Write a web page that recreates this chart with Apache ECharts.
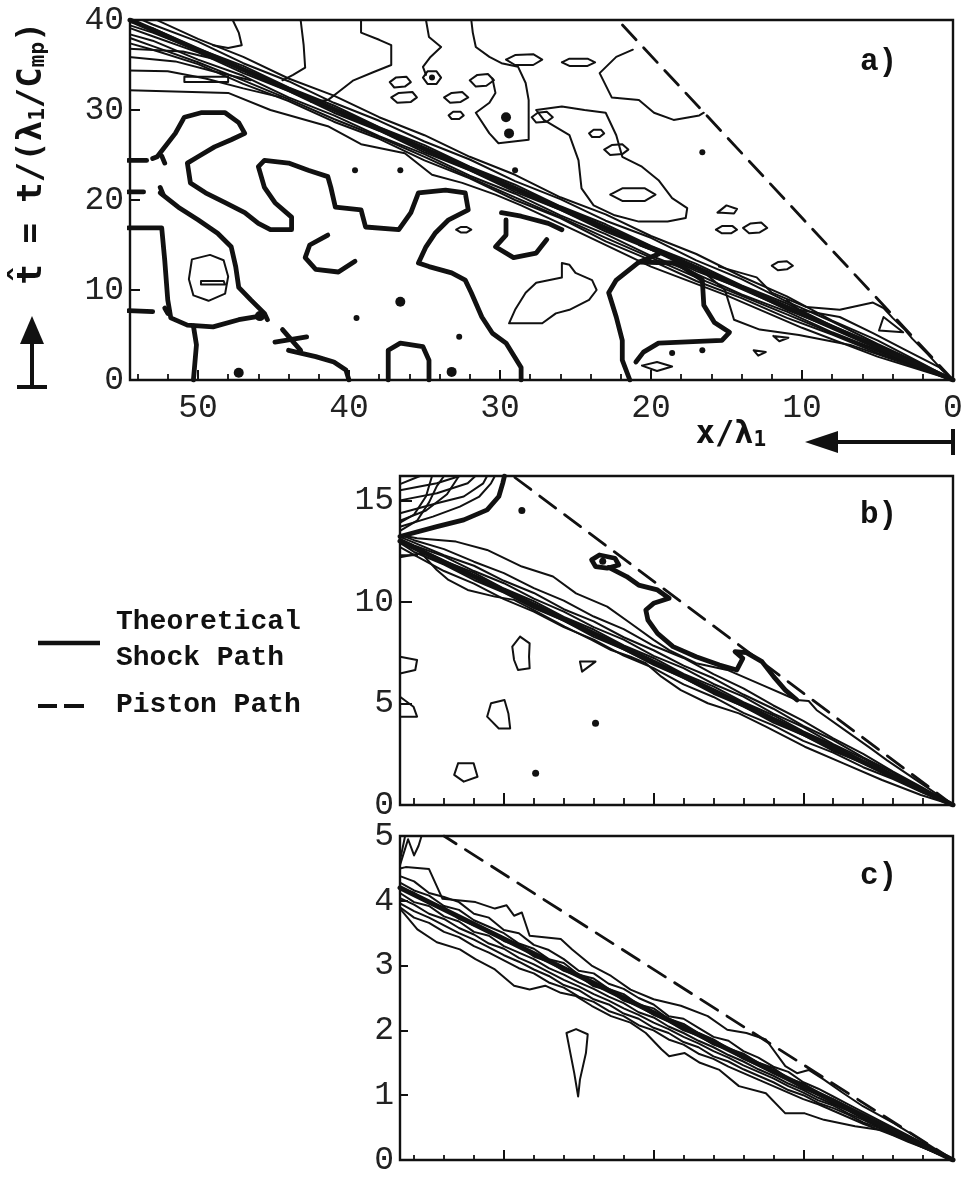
<!DOCTYPE html>
<html>
<head>
<meta charset="utf-8">
<script src="https://cdn.jsdelivr.net/npm/echarts@6/dist/echarts.min.js"></script>
<style>
html,body{margin:0;padding:0;background:#fff;}
#chart{width:966px;height:1178px;}
</style>
</head>
<body>
<div id="chart"></div>
<script>
// ===================== Panel a : x/λ1 0..54.5, t 0..40 =====================
const xMaxA = 54.5;
const tMaxA = 40;
const shockA = [[0, 0], [54.5, 40]];
const pistonA = [[0, 0], [22.2, 40]];

// thin contours bunched along the shock, sampled at these x stations
const xStationsA = [0, 2, 5, 8, 11, 14, 17, 20, 23, 26, 29, 32, 35, 38, 41, 44, 47, 50, 53, 54.5];
const bandA1 = [0, 1.8, 4.4, 6.6, 9.3, 11.5, 14.0, 16.0, 18.4, 20.3, 22.8, 24.8, 27.2, 29.2, 31.6, 33.5, 35.9, 37.9, 40.2, 41.2];
const bandA2 = [0, 1.7, 4.0, 6.5, 8.7, 11.2, 13.3, 15.8, 17.7, 20.1, 22.1, 24.5, 26.5, 28.8, 30.8, 33.2, 35.2, 37.6, 39.5, 40.6];
const bandA3 = [0, 1.5, 3.9, 6.0, 8.5, 10.5, 12.9, 14.9, 17.3, 19.3, 21.7, 23.7, 26.1, 28.1, 30.5, 32.5, 34.9, 36.8, 39.1, 39.8];
const bandA4 = [0, 1.52, 3.75, 5.95, 8.2, 10.35, 12.5, 14.7, 17.0, 19.1, 21.3, 23.5, 25.7, 27.9, 30.1, 32.3, 34.5, 36.6, 38.6, 39.4];
const bandA5 = [0, 1.45, 3.5, 5.8, 7.8, 10.2, 12.1, 14.5, 16.5, 18.9, 20.9, 23.3, 25.3, 27.7, 29.7, 32.1, 34.1, 36.4, 38.2, 39.1];
const bandA6 = [0, 1.3, 3.35, 5.3, 7.6, 9.5, 11.8, 13.8, 16.2, 18.3, 20.7, 22.7, 25.1, 27.1, 29.4, 31.4, 33.8, 35.6, 37.7, 38.4];
const bandA7 = [0, 1.25, 3.2, 5.2, 7.3, 9.35, 11.4, 13.6, 15.8, 18.1, 20.3, 22.5, 24.8, 27.0, 29.0, 31.2, 33.3, 35.3, 37.1, 38.0];
const bandA8 = [0, 1.2, 3.0, 5.05, 6.9, 9.1, 11.0, 13.3, 15.4, 18.0, 20.0, 22.4, 24.4, 26.8, 28.7, 31.0, 32.9, 35.1, 36.7, 37.4];

const lowerEdgeA = [[0,0],[5,2.6],[10,5.8],[15,9.4],[20,12.6],[25,16.6],[28.6,19.4],[30.3,20.6],[32.5,21.9],[34.5,22.8],[36.3,25.2],[39.2,26.2],[41.4,28.2],[45.2,30.0],[48.0,31.9],[54.6,32.2]];
const fanA1 = [[54.6,36.8],[51.0,36.5],[48.5,35.5],[46.0,33.9]];
const fanA2 = [[54.6,35.9],[51.5,35.4],[49.0,34.3],[46.5,33.3]];
const fanA3 = [[54.6,34.4],[52.0,34.3],[49.5,33.5],[47.0,32.4],[44.5,31.4]];
const thinA1 = [[47.7,40],[47.3,38.6],[47.1,37.2],[48.0,36.9],[49.0,37.2]];
const thinA2 = [[43.2,40],[43.0,37.2],[42.9,34.7],[43.7,33.9],[44.4,33.3]];
const thinA3 = [[39.2,40],[39.2,38.6],[38.0,37.8],[37.2,37.2],[37.2,35.0],[38.4,34.2],[39.7,33.3],[40.7,32.0],[41.4,31.1],[42.5,30.9]];
const thinA4 = [[34.9,40],[34.7,38.1],[33.9,37.0],[34.6,35.9],[35.1,34.8],[34.9,33.9]];
const thinA5 = [[31.9,40],[31.8,38.6],[31.6,37.0],[30.7,35.9],[29.9,35.2],[28.8,34.8],[28.3,33.0],[28.1,31.1],[28.1,26.7],[30.1,26.3],[30.7,27.4],[31.6,29.7],[30.7,30.8],[30.3,31.9],[30.5,33.5]];
const thinA6 = [[21.2,36.7],[22.3,35.9],[23.4,34.1],[22.6,31.4],[20.8,31.1],[19.8,29.7],[18.5,28.9],[16.8,29.4],[16.5,29.7]];
const thinA7 = [[27.6,30.0],[25.9,30.4],[24.4,30.0],[23.0,29.7],[22.3,27.2],[21.9,24.8],[20.6,23.7],[19.5,22.2],[18.6,20.2],[17.6,19.1],[17.7,18.0],[18.9,17.6],[20.8,17.6],[22.4,18.3],[23.8,19.4],[24.6,21.3],[24.8,24.4],[25.4,27.2],[27.1,28.9],[27.6,30.0]];
const thinA8 = [[15.5,12.6],[13.0,11.4],[12.0,9.7],[9.7,8.1],[7.5,7.8],[5.3,8.6],[4.6,8.0],[4.0,6.9],[3.2,5.6],[2.7,4.6],[1.7,2.9],[0.7,1.1],[0,0]];
const thinA9 = [[20.8,15.0],[16.8,12.4],[15.1,10.0],[14.5,6.7],[12.8,5.6],[10.2,5.0],[6.8,3.9],[3.5,2.0],[0,0]];
const thinA10 = [[11.0,8.9],[10.2,7.8],[7.5,7.0],[5.3,5.2],[3.1,3.3],[0.9,1.4],[0,0]];

// small closed thin contours
const loopsA = [
  [[37.3,33.1],[36.9,33.6],[36.2,33.7],[35.9,33.1],[36.3,32.6],[37.0,32.5]],
  [[37.2,31.4],[36.7,31.9],[35.8,32.0],[35.5,31.4],[35.9,30.9],[36.8,30.8]],
  [[35.1,33.6],[34.8,34.3],[34.2,34.3],[33.9,33.6],[34.2,32.9],[34.8,32.9]],
  [[33.7,31.4],[33.2,31.9],[32.5,32.0],[32.1,31.4],[32.6,30.9],[33.3,30.8]],
  [[33.4,29.4],[33.1,29.8],[32.6,29.8],[32.4,29.4],[32.7,29.0],[33.2,29.0]],
  [[32.0,33.3],[31.5,33.9],[30.8,34.0],[30.4,33.3],[30.9,32.7],[31.6,32.6]],
  [[29.6,35.6],[29.0,36.1],[27.8,36.2],[27.2,35.6],[27.8,35.0],[29.0,35.0]],
  [[25.9,35.3],[25.4,35.7],[24.2,35.7],[23.7,35.3],[24.2,34.9],[25.4,34.9]],
  [[27.9,29.2],[27.5,29.7],[26.9,29.8],[26.5,29.2],[26.9,28.7],[27.6,28.6]],
  [[24.1,27.4],[23.8,27.8],[23.3,27.8],[23.1,27.4],[23.4,27.0],[23.9,27.0]],
  [[23.1,25.6],[22.6,26.1],[21.9,26.2],[21.5,25.6],[21.9,25.1],[22.7,25.0]],
  [[22.7,20.6],[21.9,21.3],[20.4,21.3],[19.7,20.6],[20.4,19.9],[21.9,19.9]],
  [[15.6,18.6],[15.0,19.4],[14.3,19.0],[14.5,18.5]],
  [[15.7,16.7],[15.3,17.1],[14.6,17.1],[14.3,16.7],[14.7,16.3],[15.3,16.3]],
  [[13.9,16.9],[13.4,17.4],[12.7,17.5],[12.3,16.9],[12.8,16.4],[13.5,16.3]],
  [[12.0,12.7],[11.6,13.1],[11.0,13.2],[10.6,12.7],[11.0,12.3],[11.6,12.2]],
  [[32.9,16.7],[32.6,17.0],[32.2,17.0],[31.9,16.7],[32.2,16.4],[32.6,16.4]],
  [[50.4,13.4],[49.2,13.9],[48.3,13.3],[48.0,11.5],[48.2,9.6],[49.3,8.8],[50.3,9.4],[50.6,11.2]],
  [[49.8,11.0],[48.3,11.0],[48.2,10.6],[49.8,10.6]],
  [[50.9,33.7],[48.0,33.7],[48.0,33.1],[50.9,33.1]],
  [[25.9,13.0],[25.9,11.4],[27.6,10.8],[28.3,9.7],[29.0,7.8],[29.4,6.3],[27.2,6.3],[26.3,7.4],[25.4,7.8],[24.1,8.9],[23.6,10.0],[23.9,11.1],[25.0,11.9],[25.4,12.8]],
  [[4.6,7.0],[3.3,5.3],[4.9,5.5]],
  [[11.9,4.9],[10.9,4.7],[11.5,4.3]],
  [[13.2,3.3],[12.4,3.1],[12.9,2.7]],
  [[20.6,1.6],[19.6,2.0],[18.6,1.5],[19.6,1.0]]
];

// heavy contours
const thickA1 = [[54.6,16.9],[52.4,16.9],[52.2,13.3],[52.0,8.9],[51.8,6.9],[50.7,6.1],[49.0,5.9],[47.3,6.7],[45.9,7.1]];
const thickA2 = [[50.3,6.0],[50.1,3.9],[50.3,0]];
const thickA3 = [[53.0,24.6],[52.7,24.8],[51.5,27.4],[50.9,29.2],[49.8,29.7],[48.2,29.7],[47.3,28.6],[46.9,27.4],[47.8,26.7],[48.9,25.9],[50.0,24.8],[50.7,24.1],[50.5,21.9],[49.5,20.8],[48.2,19.7],[46.9,18.6],[46.0,17.4],[45.2,16.7],[43.8,16.7],[43.8,18.1],[44.9,19.7],[45.6,21.4],[46.0,23.7],[45.6,24.4],[44.0,24.1],[42.7,23.3],[41.4,22.6],[41.2,21.4],[40.9,19.2],[39.2,18.9],[38.9,17.0],[36.7,16.7],[35.9,18.6],[35.4,20.8],[33.6,21.1],[32.3,20.8],[32.1,18.9],[33.4,17.8],[34.3,16.3],[34.9,14.8],[35.4,13.0],[34.7,12.6],[33.2,11.9],[32.3,11.1],[31.9,9.7],[31.2,7.0],[30.5,5.2],[29.6,4.1],[28.6,1.4],[28.6,0]];
const thickA4 = [[52.5,20.8],[51.3,19.2],[50.0,17.8],[48.7,16.3],[47.8,14.8],[47.5,12.6],[47.3,10.3],[46.5,8.9],[45.6,7.4],[45.4,6.7]];
const thickA5 = [[41.4,16.1],[42.6,15.0],[42.9,13.6],[42.2,12.3],[40.7,12.0],[39.6,13.2]];
const thickA6 = [[44.0,3.3],[42.2,2.6],[41.0,2.0],[40.2,1.1],[40.0,0]];
const thickA7 = [[37.4,0],[37.4,3.3],[36.6,4.1],[35.1,3.7],[34.7,2.2],[34.7,0]];
const thickA8 = [[29.9,18.6],[28.6,18.2],[26.8,17.4],[25.9,16.7]];
const thickA9 = [[29.6,17.8],[29.6,16.1],[30.3,14.8],[29.1,13.6],[27.6,14.1],[26.9,15.6]];
const thickA10 = [[19.5,14.0],[20.8,13.1],[22.3,11.1],[22.8,9.7],[22.3,7.0],[21.9,4.4],[21.9,2.2],[21.4,0]];
const thickA11 = [[20.8,13.1],[18.3,13.0],[16.6,11.1],[16.5,8.3],[15.8,6.4],[14.8,5.3],[15.3,4.4],[19.5,4.1],[20.5,3.1],[21.0,2.0]];
const thickBitsA = [
  [[54.6,24.4],[53.4,24.4]], [[54.6,20.9],[53.6,20.9]], [[54.6,7.7],[53.0,7.6]],
  [[52.4,24.9],[52.2,24.1]], [[52.5,21.4],[52.3,20.6]], [[52.2,8.0],[52.0,7.4]],
  [[44.4,5.6],[43.2,3.3]], [[44.9,4.2],[42.8,4.8]]
];
const dotsA = [[39.6,23.3],[36.6,23.3],[39.5,6.9],[32.7,4.8],[29.0,23.3],[16.6,25.3],[18.6,3.0],[16.6,3.3],[34.5,33.6]];
const blobsA = [[36.6,8.7],[33.2,0.9],[29.6,29.2],[29.4,27.4],[47.3,0.8],[45.9,7.1]];

// ===================== Panel b : t 0..16.2 =====================
const xMaxBC = 18.47;
const tMaxB = 16.2;
const shockB = [[0, 0], [18.47, 13.0]];
const pistonB = [[0, 0], [14.7, 16.2]];
const xStationsB = [0, 1, 2, 3, 4, 5, 6, 7, 8, 9, 10, 11, 12, 13, 14, 15, 16, 17, 18, 18.47];
const bandB1 = [0, 0.84, 1.64, 2.52, 3.28, 4.14, 4.90, 5.74, 6.44, 7.24, 7.84, 8.66, 9.28, 10.06, 10.68, 11.42, 11.98, 12.6, 13.04, 13.3];
const bandB2 = [0, 0.76, 1.6, 2.34, 3.2, 3.9, 4.74, 5.44, 6.24, 6.86, 7.62, 8.26, 9.04, 9.64, 10.44, 11.04, 11.78, 12.3, 12.92, 13.2];
const bandB3 = [0, 0.78, 1.5, 2.3, 3.0, 3.84, 4.5, 5.34, 5.96, 6.74, 7.34, 8.14, 8.76, 9.52, 10.16, 10.92, 11.52, 12.24, 12.78, 13.1];
const bandB4 = [0, 0.7, 1.48, 2.16, 2.96, 3.62, 4.42, 5.06, 5.84, 6.46, 7.24, 7.86, 8.64, 9.26, 10.04, 10.66, 11.44, 12.02, 12.74, 13.0];
const bandB5 = [0, 0.68, 1.32, 2.06, 2.66, 3.44, 4.06, 4.86, 5.48, 6.26, 6.9, 7.66, 8.28, 9.08, 9.7, 10.46, 11.08, 11.84, 12.46, 12.9];
const bandB6 = [0, 0.6, 1.28, 1.86, 2.58, 3.16, 3.92, 4.54, 5.32, 5.94, 6.74, 7.36, 8.14, 8.76, 9.52, 10.14, 10.9, 11.52, 12.32, 12.7];
const lowerEdgeB = [[18.47,12.2],[17.76,12.4],[17.24,11.57],[16.85,11.08],[16.21,10.59],[15.3,10.26],[14.66,10.1],[14.0,9.6],[12.97,8.78],[12.07,8.13],[11.42,7.63],[10.77,7.3],[10.26,6.98],[9.74,6.32],[9.09,5.66],[8.19,5.01],[7.15,4.51],[6.25,3.86],[4.95,2.87],[3.66,2.05],[2.37,1.23],[1.07,0.49],[0,0]];
const outerB = [[18.47,13.3],[17.9,13.13],[16.6,12.97],[15.56,12.56],[14.4,11.74],[13.36,11.25],[12.59,10.42],[11.55,9.77],[10.77,8.95],[10.0,8.13],[9.48,7.63],[8.58,6.98],[7.54,6.65],[6.25,5.83],[5.47,5.33],[5.21,5.17],[4.82,5.12],[4.56,4.68],[3.53,3.6],[2.76,2.8],[2.2,2.2],[1.2,1.2],[0,0]];
const fanB = [
  [[18.47,15.5],[17.24,15.84],[16.47,16.2]],
  [[18.47,15.0],[17.24,15.35],[16.21,15.84],[15.95,16.2]],
  [[18.47,14.37],[17.24,14.86],[16.34,15.19],[15.69,15.84],[15.56,16.2]],
  [[18.47,13.7],[17.37,14.2],[16.47,14.69],[15.82,15.19],[15.43,15.84],[15.3,16.2]],
  [[18.47,13.5],[17.9,14.0],[17.5,14.9],[17.24,15.7],[17.0,16.2]],
  [[18.47,14.0],[17.6,14.5],[16.9,15.3],[16.5,16.2]],
  [[18.47,13.9],[18.0,14.3],[17.6,15.2],[17.4,16.2]],
  [[18.47,15.8],[17.8,16.2]],
  [[18.47,12.3],[17.9,12.3]]
];
const thickB1 = [[18.47,13.22],[17.24,13.71],[16.34,14.04],[15.56,14.53],[15.17,15.19],[15.04,15.84],[14.98,16.2]];
const thickB2 = [[11.5,11.7],[10.9,11.25],[10.5,10.83],[9.87,10.59],[9.48,10.18],[10.0,9.93],[10.26,9.6],[10.19,9.11],[9.87,8.45],[9.35,7.8],[8.58,7.3],[7.8,6.89],[7.22,6.65],[7.02,7.22],[7.28,7.55],[6.9,7.5],[6.38,7.06],[5.99,6.32],[5.6,5.66],[5.21,5.17]];
const thickB3 = [[12.07,12.07],[11.81,12.31],[11.29,12.15],[11.16,11.82],[11.55,11.66],[11.94,11.74]];
const loopsB = [
  [[14.46,8.29],[14.14,7.96],[14.16,7.3],[14.14,6.73],[14.53,6.65],[14.66,7.14],[14.72,7.8]],
  [[15.43,5.01],[14.98,5.17],[14.85,4.51],[14.79,3.77],[15.17,3.77],[15.56,4.35]],
  [[16.53,2.05],[16.01,2.05],[15.88,1.39],[16.34,1.15],[16.66,1.48]],
  [[12.46,7.06],[11.94,7.06],[12.39,6.57]]
];
const edgeBumpsB = [
  [[18.47,7.3],[17.9,7.14],[17.96,6.65],[18.47,6.48]],
  [[18.47,5.33],[18.02,4.84],[17.9,4.35],[18.47,4.35]]
];
const dotsB = [[11.94,4.02],[13.94,1.56],[14.4,14.5],[11.7,12.0]];

// ===================== Panel c : t 0..5 =====================
const tMaxC = 5;
const shockC = [[0, 0], [18.47, 4.2]];
const pistonC = [[0, 0], [17.0, 5.0]];
const xStationsC = [18.47, 18, 17.5, 17, 16.5, 16, 15.5, 15, 14.5, 14, 13.5, 13, 12.5, 12, 11.5, 11, 10.5, 10, 9.5, 9, 8.5, 8, 7.5, 7, 6.5, 6, 5.5, 5, 4.5, 4, 3.5, 3, 2.5, 2, 1.5, 1, 0.5, 0];
const bandC1 = [4.38, 4.30, 4.12, 4.06, 3.98, 3.80, 3.74, 3.55, 3.50, 3.32, 3.24, 3.10, 2.92, 2.88, 2.72, 2.64, 2.50, 2.40, 2.22, 2.18, 2.04, 1.90, 1.84, 1.68, 1.58, 1.44, 1.36, 1.20, 1.10, 0.98, 0.86, 0.74, 0.62, 0.50, 0.38, 0.26, 0.13, 0];
const bandC2 = [4.28, 4.16, 4.08, 3.92, 3.86, 3.70, 3.60, 3.50, 3.34, 3.26, 3.10, 3.04, 2.86, 2.80, 2.64, 2.56, 2.40, 2.34, 2.18, 2.10, 1.96, 1.86, 1.72, 1.64, 1.50, 1.42, 1.26, 1.18, 1.04, 0.94, 0.82, 0.70, 0.58, 0.47, 0.35, 0.24, 0.12, 0];
const bandC3 = [4.20, 4.12, 3.96, 3.90, 3.72, 3.62, 3.54, 3.38, 3.30, 3.14, 3.06, 2.92, 2.84, 2.68, 2.62, 2.46, 2.38, 2.24, 2.14, 2.00, 1.92, 1.78, 1.70, 1.56, 1.46, 1.34, 1.24, 1.10, 1.02, 0.88, 0.80, 0.66, 0.56, 0.44, 0.34, 0.22, 0.11, 0];
const bandC4 = [4.12, 3.98, 3.92, 3.76, 3.68, 3.52, 3.46, 3.30, 3.20, 3.10, 2.96, 2.86, 2.74, 2.64, 2.52, 2.42, 2.28, 2.20, 2.06, 1.96, 1.84, 1.74, 1.62, 1.52, 1.40, 1.30, 1.18, 1.08, 0.96, 0.86, 0.76, 0.64, 0.53, 0.43, 0.32, 0.21, 0.10, 0];
const bandC5 = [4.04, 3.94, 3.80, 3.72, 3.58, 3.48, 3.34, 3.26, 3.12, 3.02, 2.90, 2.78, 2.68, 2.56, 2.46, 2.34, 2.24, 2.12, 2.02, 1.90, 1.80, 1.68, 1.58, 1.46, 1.36, 1.26, 1.14, 1.04, 0.92, 0.84, 0.72, 0.62, 0.51, 0.41, 0.31, 0.20, 0.10, 0];
const bandC6 = [3.96, 3.84, 3.74, 3.62, 3.50, 3.40, 3.28, 3.16, 3.06, 2.94, 2.84, 2.70, 2.62, 2.48, 2.40, 2.26, 2.18, 2.04, 1.96, 1.82, 1.74, 1.60, 1.52, 1.40, 1.30, 1.20, 1.08, 1.00, 0.88, 0.80, 0.70, 0.58, 0.50, 0.39, 0.30, 0.19, 0.10, 0];
const bandC7 = [3.90, 3.74, 3.66, 3.52, 3.44, 3.30, 3.20, 3.08, 2.96, 2.88, 2.74, 2.66, 2.52, 2.44, 2.30, 2.22, 2.08, 2.00, 1.86, 1.78, 1.64, 1.56, 1.44, 1.34, 1.24, 1.14, 1.04, 0.94, 0.86, 0.76, 0.66, 0.56, 0.47, 0.38, 0.28, 0.19, 0.09, 0];
const upperEdgeC = [[18.47,4.5],[18.28,4.52],[17.5,4.49],[17.05,4.03],[15.95,3.98],[15.3,3.88],[14.91,3.93],[14.66,3.77],[14.4,3.82],[14.14,3.46],[13.1,3.41],[12.72,3.25],[12.07,3.0],[11.42,2.84],[10.77,2.63],[10.0,2.48],[9.09,2.38],[8.19,2.22],[7.54,2.01],[6.9,1.96],[6.25,1.86],[5.6,1.45],[5.21,1.34],[4.82,1.39],[4.31,1.24],[3.66,1.03],[3.01,0.83],[1.98,0.57],[1.07,0.31],[0,0]];
const lowerEdgeC = [[18.47,3.88],[17.89,3.56],[17.24,3.36],[16.47,3.25],[15.95,3.1],[15.3,2.94],[14.66,2.69],[14.14,2.63],[13.62,2.69],[13.1,2.58],[12.59,2.53],[12.07,2.38],[11.42,2.22],[10.77,2.12],[10.26,1.96],[9.74,1.71],[9.48,1.6],[8.96,1.65],[8.45,1.5],[7.8,1.39],[7.15,1.14],[6.25,1.03],[5.6,0.72],[4.95,0.72],[4.31,0.62],[3.27,0.52],[2.37,0.46],[1.07,0.21],[0,0]];
const dropC = [[12.91,1.96],[12.59,2.02],[12.2,1.94],[12.26,1.65],[12.46,1.24],[12.52,0.98],[12.65,1.34],[12.78,1.65]];
const cornerC1 = [[18.47,4.62],[18.3,5.0]];
const cornerC2 = [[18.47,4.55],[18.2,4.95],[18.0,4.7],[17.85,4.85],[17.75,5.0]];

// ===================== drawing =====================
const INK = '#111';
const MONO = "'Liberation Mono', 'DejaVu Sans Mono', monospace";
const series = [];

function ring(pts) { return pts.concat([pts[0]]); }
function fromStations(xs, ts) { return xs.map((x, i) => [x, ts[i]]); }
function addLine(panel, pts, width, dash) {
  series.push({
    type: 'line', xAxisIndex: panel * 2, yAxisIndex: panel, data: pts,
    symbol: 'none', silent: true, animation: false, clip: true, z: 3,
    lineStyle: { color: INK, width: width, type: dash || 'solid', cap: 'round', join: 'round' }
  });
}
function addDots(panel, pts, size) {
  series.push({
    type: 'scatter', xAxisIndex: panel * 2, yAxisIndex: panel, data: pts,
    symbolSize: size, silent: true, animation: false, z: 4,
    itemStyle: { color: INK, opacity: 1 }
  });
}

const THIN = 2.0, THICK = 4.8, SHOCK = 5, DASH = [20, 11];

// panel a
[bandA1, bandA2, bandA3, bandA4, bandA5, bandA6, bandA7, bandA8].forEach(b => addLine(0, fromStations(xStationsA, b), THIN));
[lowerEdgeA, fanA1, fanA2, fanA3, thinA1, thinA2, thinA3, thinA4, thinA5, thinA6, thinA7, thinA8, thinA9, thinA10]
  .forEach(p => addLine(0, p, THIN));
loopsA.forEach(p => addLine(0, ring(p), THIN));
[thickA1, thickA2, thickA3, thickA4, thickA5, thickA6, thickA7, thickA8, thickA9, thickA10, thickA11]
  .forEach(p => addLine(0, p, THICK));
thickBitsA.forEach(p => addLine(0, p, THICK));
addDots(0, dotsA, 6);
addDots(0, blobsA, 10);
addLine(0, shockA, SHOCK);
addLine(0, pistonA, 2.8, DASH);

// panel b
[bandB1, bandB2, bandB3, bandB4, bandB5, bandB6].forEach(b => addLine(1, fromStations(xStationsB, b), THIN));
[lowerEdgeB, outerB].forEach(p => addLine(1, p, THIN));
fanB.forEach(p => addLine(1, p, THIN));
loopsB.forEach(p => addLine(1, ring(p), THIN));
edgeBumpsB.forEach(p => addLine(1, p, THIN));
[thickB1, thickB2].forEach(p => addLine(1, p, THICK));
addLine(1, ring(thickB3), THICK);
addDots(1, dotsB, 7);
addLine(1, shockB, SHOCK);
addLine(1, pistonB, 2.8, DASH);

// panel c
[bandC1, bandC2, bandC3, bandC4, bandC5, bandC6, bandC7].forEach(b => addLine(2, fromStations(xStationsC, b), THIN));
[upperEdgeC, lowerEdgeC, cornerC1, cornerC2].forEach(p => addLine(2, p, THIN));
addLine(2, ring(dropC), THIN);
addLine(2, shockC, SHOCK);
addLine(2, pistonC, 2.8, DASH);

function xAxes(grid, max, major, minor, majLen, minLen, labels) {
  const common = { gridIndex: grid, type: 'value', min: 0, max: max, inverse: true, position: 'bottom',
    axisLine: { show: false, onZero: false }, splitLine: { show: false } };
  return [
    Object.assign({}, common, { interval: major,
      axisTick: { show: true, inside: true, length: majLen, lineStyle: { color: INK, width: 2 } },
      axisLabel: { show: labels, margin: 12, color: '#222', fontFamily: MONO, fontSize: 33,
        formatter: v => (Math.abs(v % major) < 1e-9 ? String(v) : '') } }),
    Object.assign({}, common, { interval: minor, axisLabel: { show: false },
      axisTick: { show: true, inside: true, length: minLen, lineStyle: { color: INK, width: 1.8 } } })
  ];
}
function yAxis(grid, max, major, tickLen) {
  return { gridIndex: grid, type: 'value', min: 0, max: max, interval: major, position: 'left',
    axisLine: { show: false, onZero: false }, splitLine: { show: false },
    axisTick: { show: true, inside: true, length: tickLen, lineStyle: { color: INK, width: 2 } },
    axisLabel: { margin: 6, color: '#222', fontFamily: MONO, fontSize: 33,
      formatter: v => (Math.abs(v % major) < 1e-9 ? String(v) : '') } };
}

const gridStyle = { show: true, borderColor: INK, borderWidth: 2.4, backgroundColor: 'transparent' };
const BOLD = "bold 28px 'Liberation Mono', 'DejaVu Sans Mono', monospace";
const boldText = (x, y, text, font) => ({
  type: 'text', x: x, y: y, silent: true,
  style: { text: text, fill: INK, font: font || BOLD, textAlign: 'left', textVerticalAlign: 'middle' }
});
const SUB = { font: "bold 21px 'DejaVu Sans Mono', monospace", fill: INK, verticalAlign: 'bottom', padding: [12, 0, 0, 0] };

const option = {
  animation: false,
  backgroundColor: '#fff',
  grid: [
    Object.assign({ left: 130, top: 20, width: 823, height: 360 }, gridStyle),
    Object.assign({ left: 400, top: 476, width: 553, height: 329 }, gridStyle),
    Object.assign({ left: 400, top: 836, width: 553, height: 324 }, gridStyle)
  ],
  xAxis: [].concat(
    xAxes(0, xMaxA, 10, 2, 10, 6, true),
    xAxes(1, xMaxBC, 5, 1, 12, 7, false),
    xAxes(2, xMaxBC, 5, 1, 10, 5, false)
  ),
  yAxis: [yAxis(0, tMaxA, 10, 10), yAxis(1, tMaxB, 5, 12), yAxis(2, tMaxC, 1, 8)],
  series: series,
  graphic: [
    // panel tags
    boldText(860, 62, 'a)', "bold 31px 'Liberation Mono', monospace"),
    boldText(860, 515, 'b)', "bold 31px 'Liberation Mono', monospace"),
    boldText(860, 876, 'c)', "bold 31px 'Liberation Mono', monospace"),
    // vertical axis title
    { type: 'text', x: 32, y: 153, rotation: Math.PI / 2, silent: true,
      style: { text: 't\u0302 = t/(\u03bb{s|1}/C{s|mp})', fill: INK,
        font: "bold 34px 'DejaVu Sans Mono', 'Liberation Mono', monospace",
        textAlign: 'center', textVerticalAlign: 'middle', rich: { s: SUB } } },
    // upward arrow under it
    { type: 'line', silent: true, shape: { x1: 32, y1: 387, x2: 32, y2: 340 }, style: { stroke: INK, lineWidth: 4 } },
    { type: 'line', silent: true, shape: { x1: 17, y1: 387, x2: 47, y2: 387 }, style: { stroke: INK, lineWidth: 4 } },
    { type: 'polygon', silent: true, shape: { points: [[20, 344], [44, 344], [32, 316]] }, style: { fill: INK } },
    // horizontal axis title and leftward arrow
    { type: 'text', x: 731, y: 435, silent: true,
      style: { text: 'x/\u03bb{s|1}', fill: INK, font: "bold 32px 'DejaVu Sans Mono', 'Liberation Mono', monospace",
        textAlign: 'center', textVerticalAlign: 'middle', rich: { s: SUB } } },
    { type: 'line', silent: true, shape: { x1: 953, y1: 442, x2: 832, y2: 442 }, style: { stroke: INK, lineWidth: 4 } },
    { type: 'line', silent: true, shape: { x1: 953, y1: 429, x2: 953, y2: 455 }, style: { stroke: INK, lineWidth: 4 } },
    { type: 'polygon', silent: true, shape: { points: [[805, 442], [838, 431], [838, 453]] }, style: { fill: INK } },
    // legend
    { type: 'line', silent: true, shape: { x1: 38, y1: 643, x2: 100, y2: 643 }, style: { stroke: INK, lineWidth: 4.5 } },
    boldText(116, 622, 'Theoretical'),
    boldText(116, 658, 'Shock Path'),
    { type: 'line', silent: true, shape: { x1: 38, y1: 706, x2: 57, y2: 706 }, style: { stroke: INK, lineWidth: 4 } },
    { type: 'line', silent: true, shape: { x1: 64, y1: 706, x2: 84, y2: 706 }, style: { stroke: INK, lineWidth: 4 } },
    boldText(116, 705, 'Piston Path')
  ]
};

const chart = echarts.init(document.getElementById('chart'), null, { renderer: 'canvas' });
chart.setOption(option);
</script>
</body>
</html>
